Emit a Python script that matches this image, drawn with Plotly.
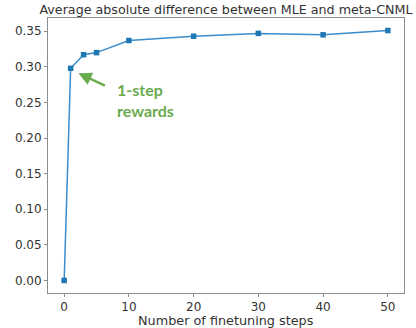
import plotly.graph_objects as go

steps = [0, 1, 3, 5, 10, 20, 30, 40, 50]
avg_diff = [0.0, 0.298, 0.317, 0.320, 0.337, 0.343, 0.347, 0.345, 0.351]
y_ticks = [0.00, 0.05, 0.10, 0.15, 0.20, 0.25, 0.30, 0.35]
x_ticks = [0, 10, 20, 30, 40, 50]

fig = go.Figure()
fig.add_trace(go.Scatter(
    x=steps, y=avg_diff, mode="lines+markers",
    line=dict(color="#3a8ccc", width=1.5),
    marker=dict(symbol="square", size=5.5, color="#1f77b4"),
    showlegend=False,
))

green = "#6aab4f"
fig.add_annotation(x=2.2, y=0.291, ax=28, ay=13, text="", showarrow=True,
                   arrowhead=2, arrowsize=1.1, arrowwidth=2.4, arrowcolor=green,
                   xref="x", yref="y")
fig.add_annotation(x=7.9, y=0.254, text="<b>1-step<br>rewards</b>", showarrow=False,
                   xanchor="left", yanchor="middle", align="left",
                   font=dict(family="Lato", size=16, color=green))
fig.add_annotation(x=0.5, y=-27.5 / 275, xref="paper", yref="paper",
                   text="Number of finetuning steps", showarrow=False,
                   xanchor="center", yanchor="middle", borderpad=0,
                   font=dict(family="DejaVu Sans", size=12.8, color="#333333"))

axis_common = dict(showline=True, linecolor="#8c8c8c", linewidth=1, mirror=True,
                   ticks="outside", ticklen=3, tickcolor="#8c8c8c", showgrid=False,
                   zeroline=False, automargin=False,
                   tickfont=dict(family="DejaVu Sans", size=12, color="#333333"))

fig.update_xaxes(range=[-2.5, 52.5], tickvals=x_ticks, **axis_common)
fig.update_yaxes(range=[-0.0176, 0.3686], tickvals=y_ticks, tickformat=".2f",
                 **axis_common)

fig.update_layout(
    width=416, height=328,
    margin=dict(l=48, r=12, t=18, b=35, autoexpand=False),
    plot_bgcolor="white", paper_bgcolor="white",
    title=dict(text="Average absolute difference between MLE and meta-CNML",
               x=0.5, xref="paper", y=1 - 10 / 328, yref="container", yanchor="middle",
               automargin=False,
               font=dict(family="DejaVu Sans", size=12.7, color="#333333")),
)

fig.write_html("out.html", config={"displayModeBar": False},
               post_script="document.body.style.margin='0';document.body.style.overflow='hidden';")
